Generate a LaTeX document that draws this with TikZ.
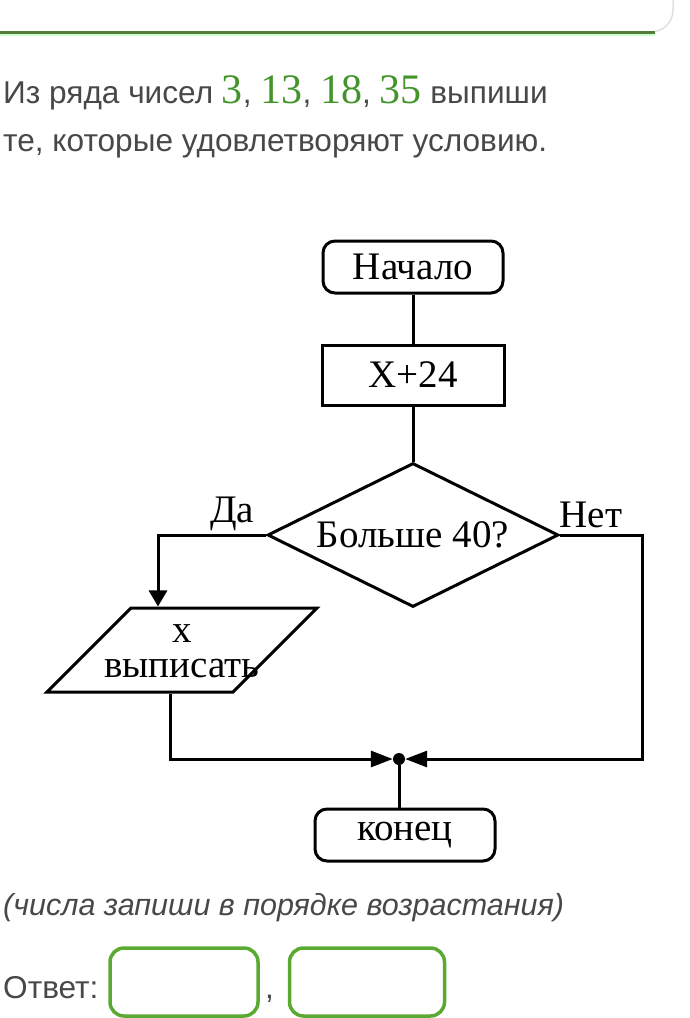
\documentclass[tikz,border=0pt]{standalone}
\usepackage{fontspec}
\setmainfont{Liberation Sans}
\newfontfamily\chartfont{Liberation Serif}
\usepackage{tikz}
\usetikzlibrary{positioning,shapes.geometric,arrows.meta}
\definecolor{txtgray}{HTML}{484848}
\definecolor{numgreen}{HTML}{43952B}
\definecolor{boxgreen}{HTML}{5AAA32}
\definecolor{bargreen}{HTML}{527C3E}
\newcommand\greennum[1]{{\chartfont\fontsize{42}{42}\selectfont\color{numgreen}#1}}

\begin{document}
\begin{tikzpicture}[x=1pt,y=-1pt,
  chart/.style={font=\chartfont\fontsize{39}{39}\selectfont},
  term/.style={chart,draw,line width=3pt,rounded corners=12pt,minimum width=180pt,minimum height=52pt,inner sep=0pt},
  proc/.style={chart,draw,line width=3pt,minimum width=182pt,minimum height=60pt,inner sep=0pt},
  cond/.style={chart,draw,line width=3pt,diamond,aspect=2,minimum width=291pt,minimum height=144pt,inner sep=0pt},
  io/.style={draw,line width=3pt,trapezium,trapezium left angle=45,trapezium right angle=135,inner sep=0pt},
  flow/.style={line width=3pt},
  txt/.style={anchor=base west,inner sep=0pt,text=txtgray,font=\fontsize{31.6}{31.6}\selectfont},
  ans/.style={draw=boxgreen,line width=3.5pt,rounded corners=14pt,inner sep=0pt}]
\useasboundingbox (0,0) rectangle (689,1018);

\draw[black!12,line width=1.5pt,rounded corners=22pt] (-5,32) -- (673,32) -- (673,-30);
\draw[green!20!white,line width=2pt] (0,35) -- (655,35);
\draw[bargreen,line width=3pt] (0,32) -- (655,32);

\node[txt] (line1) at (3,103) {Из ряда чисел \greennum{3}, \greennum{13}, \greennum{18}, \greennum{35} выпиши};
\node[txt] (line2) at (3,151) {те, которые удовлетворяют условию.};

\node[term] (start) at (413,267) {Начало};
\node[proc] (plus) at (413,375) {X+24};
\node[cond] (cond) at (413,535) {Больше 40?};
\node[io] (out) at (182,650) {\rule{0pt}{84pt}\rule{102pt}{0pt}};
\node[chart,align=center,inner sep=0pt,font=\chartfont\fontsize{39}{35}\selectfont] (outtxt) at (182,651) {x\\выписать};
\node[circle,fill,inner sep=0pt,minimum size=12pt] (merge) at (399,759) {};
\node[term] (stop) at (405,835) {конец};
\node[chart,anchor=base,inner sep=0pt] (yes) at (232,522) {Да};
\node[chart,anchor=base,inner sep=0pt] (no) at (591,527) {Нет};

\draw[flow] (start) -- (plus);
\draw[flow] (plus) -- (cond);
\draw[flow,-{Triangle[length=16pt,width=18pt]}] (cond.west) -| ([xshift=-24pt]out.center |- out.north);
\draw[flow,-{Triangle[length=22pt,width=16pt]}] ([xshift=-12pt]out.center |- out.south) |- (merge);
\draw[flow,-{Triangle[length=22pt,width=16pt]}] (cond.east) -- ++(82,0) |- (merge);
\draw[flow] (merge) -- (merge |- stop.north);

\node[txt,font=\itshape\fontsize{30.5}{30.5}\selectfont] (hint) at (3,915) {(числа запиши в порядке возрастания)};
\node[txt] (answer) at (3,998) {Ответ:};
\node[ans,minimum width=148pt,minimum height=68pt] (ans1) at (184,982) {};
\node[txt] (comma) at (265,998) {,};
\node[ans,minimum width=155pt,minimum height=68pt] (ans2) at (367,982) {};
\end{tikzpicture}
\end{document}
